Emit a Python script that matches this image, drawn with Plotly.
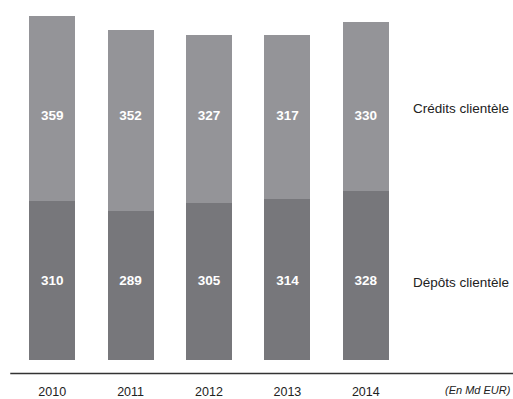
import plotly.graph_objects as go

years = ["2010", "2011", "2012", "2013", "2014"]
depots = [310, 289, 305, 314, 328]
credits = [359, 352, 327, 317, 330]

depots_name = "Dépôts clientèle"
credits_name = "Crédits clientèle"
unit_note = "(En Md EUR)"

dark = "#77777b"
light = "#949498"
font_family = "Liberation Sans, Arial, Helvetica"

fig = go.Figure()
fig.add_trace(go.Bar(x=years, y=depots, name=depots_name, marker=dict(color=dark, line=dict(width=0)),
                     hoverinfo="skip"))
fig.add_trace(go.Bar(x=years, y=credits, name=credits_name, marker=dict(color=light, line=dict(width=0)),
                     hoverinfo="skip"))

# value labels sit on two fixed rows across all bars
row_top, row_bottom = 473, 151.5
for vals, row in ((credits, row_top), (depots, row_bottom)):
    fig.add_trace(go.Scatter(
        x=years, y=[row] * len(years), mode="text",
        text=[f"<b>{v}</b>" for v in vals], textposition="middle center",
        textfont=dict(family=font_family, size=13.5, color="white"),
        hoverinfo="skip", cliponaxis=False,
    ))

# series names to the right of the bars
fig.add_annotation(xref="paper", yref="y", x=1.015, y=490, xanchor="left", text=credits_name,
                   showarrow=False, font=dict(family=font_family, size=13.5, color="#222"))
fig.add_annotation(xref="paper", yref="y", x=1.015, y=151.5, xanchor="left", text=depots_name,
                   showarrow=False, font=dict(family=font_family, size=13.5, color="#222"))

# unit note at the bottom right
fig.add_annotation(xref="paper", yref="paper", x=1.2765, y=-0.0833, xanchor="right", yanchor="middle",
                   text=f"<i>{unit_note}</i>", showarrow=False,
                   font=dict(family=font_family, size=11, color="#222"))

# baseline rule under the bars
fig.add_shape(type="line", xref="paper", yref="paper", x0=-0.007, x1=1.28, y0=-0.0375, y1=-0.0375,
              line=dict(color="#333333", width=1.3))

fig.update_layout(
    width=513, height=399,
    margin=dict(l=12.75, r=107.75, t=0, b=39),
    barmode="stack", bargap=0.414,
    plot_bgcolor="white", paper_bgcolor="white",
    showlegend=False,
    xaxis=dict(type="category", range=[-0.5, 4.5], showgrid=False, zeroline=False, showline=False,
               ticks="outside", ticklen=20, tickcolor="rgba(0,0,0,0)",
               tickfont=dict(family=font_family, size=12.5, color="#222")),
    yaxis=dict(range=[0, 700], visible=False),
)

fig.write_html("out.html")
